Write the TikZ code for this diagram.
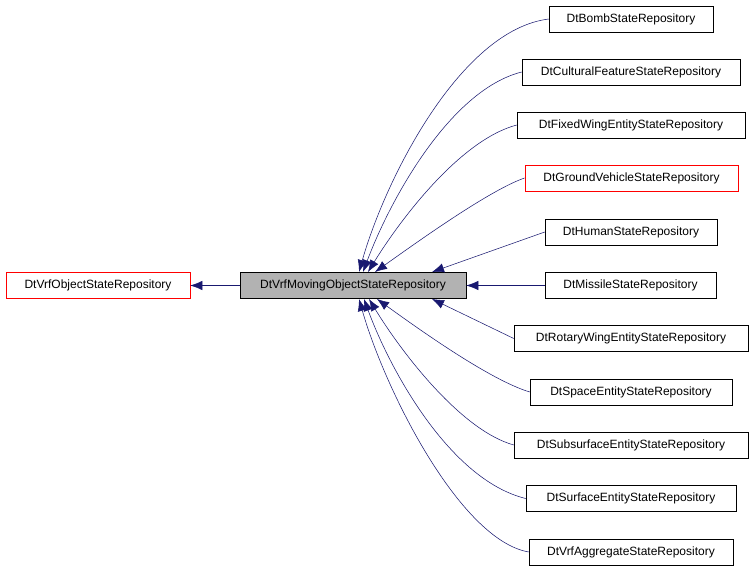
\documentclass[tikz,border=0pt]{standalone}
\usepackage{fontspec}
\setmainfont{Liberation Sans}
\usetikzlibrary{arrows.meta}
\definecolor{edgec}{RGB}{25,25,112}
\begin{document}
\begin{tikzpicture}[x=0.75pt,y=-0.75pt,
  box/.style={draw=black,fill=white,inner sep=0pt,minimum height=19.5pt,font=\fontsize{9}{11}\selectfont},
  red/.style={draw=red},
  edge/.style={draw=edgec,{Latex[length=9pt,width=7pt]}-}]
\useasboundingbox (0,0) rectangle (755,573);
\node[box,red,minimum width=138pt] (obj) at (98,285.5) {DtVrfObjectStateRepository};
\node[box,fill=black!30,minimum width=169.5pt] (mov) at (353,285.5) {DtVrfMovingObjectStateRepository};
\node[box,minimum width=123pt] (r1) at (631,19) {DtBombStateRepository};
\node[box,minimum width=163.5pt] (r2) at (631,72) {DtCulturalFeatureStateRepository};
\node[box,minimum width=171pt] (r3) at (631,125) {DtFixedWingEntityStateRepository};
\node[box,red,minimum width=160pt] (r4) at (631.5,178) {DtGroundVehicleStateRepository};
\node[box,minimum width=129pt] (r5) at (631,232) {DtHumanStateRepository};
\node[box,minimum width=128pt] (r6) at (630.5,285.5) {DtMissileStateRepository};
\node[box,minimum width=175.5pt] (r7) at (631,338.5) {DtRotaryWingEntityStateRepository};
\node[box,minimum width=151.5pt] (r8) at (631,392) {DtSpaceEntityStateRepository};
\node[box,minimum width=175.5pt] (r9) at (631,445) {DtSubsurfaceEntityStateRepository};
\node[box,minimum width=157.5pt] (r10) at (631,498.5) {DtSurfaceEntityStateRepository};
\node[box,minimum width=153pt] (r11) at (631,552) {DtVrfAggregateStateRepository};
\coordinate (t1) at (359,272);
\coordinate (t2) at (363,272);
\coordinate (t3) at (368,272);
\coordinate (t4) at (375,272);
\coordinate (t5) at (432,272);
\coordinate (b7) at (432,299);
\coordinate (b8) at (377,299);
\coordinate (b9) at (369,299);
\coordinate (b10) at (364,299);
\coordinate (b11) at (359,299);
\draw[edge] (obj.east) -- (mov.west);
\draw[edge] (t1) .. controls (385,180) and (460,30) .. (r1.west);
\draw[edge] (t2) .. controls (390,200) and (450,90) .. (r2.west);
\draw[edge] (t3) .. controls (400,220) and (460,140) .. (r3.west);
\draw[edge] (t4) .. controls (420,240) and (490,190) .. (r4.west);
\draw[edge] (t5) -- (r5.west);
\draw[edge] (mov.east) -- (r6.west);
\draw[edge] (b7) -- (r7.west);
\draw[edge] (b8) .. controls (420,330) and (490,380) .. (r8.west);
\draw[edge] (b9) .. controls (400,350) and (460,430) .. (r9.west);
\draw[edge] (b10) .. controls (390,370) and (450,480) .. (r10.west);
\draw[edge] (b11) .. controls (385,390) and (460,540) .. (r11.west);
\end{tikzpicture}
\end{document}
